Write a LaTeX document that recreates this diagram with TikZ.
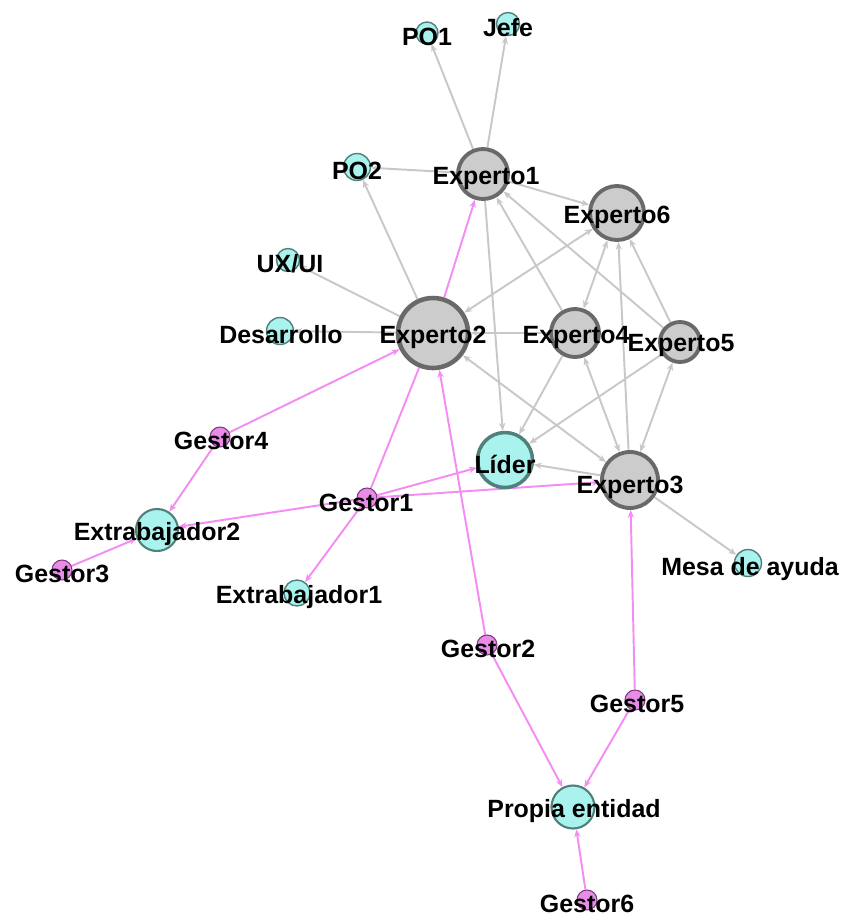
\documentclass[tikz,border=0pt]{standalone}
\usepackage{fontspec}
\setmainfont{Liberation Sans}
\usetikzlibrary{arrows.meta,backgrounds}
\definecolor{cyanfill}{RGB}{170,242,238}
\definecolor{cyanline}{RGB}{80,128,122}
\definecolor{expfill}{RGB}{204,204,204}
\definecolor{expline}{RGB}{105,105,105}
\definecolor{gesfill}{RGB}{232,140,232}
\definecolor{gesline}{RGB}{125,60,125}
\definecolor{pinkedge}{RGB}{244,140,244}
\definecolor{grayedge}{RGB}{200,200,200}
\begin{document}
\begin{tikzpicture}[x=0.02cm,y=-0.02cm]
        \tikzset{
            lbl/.style={font=\bfseries\fontsize{14.2}{16}\selectfont,inner sep=0pt,yshift=-0.08cm},
            rolenode/.style={circle,draw=cyanline,fill=cyanfill,line width=0.8pt,inner sep=0pt},
            expnode/.style={circle,draw=expline,fill=expfill,line width=2.2pt,inner sep=0pt},
            gesnode/.style={circle,draw=gesline,fill=gesfill,line width=0.6pt,inner sep=0pt,minimum size=0.4cm},
            rel/.style={-{Stealth[length=4.5pt,width=3.6pt]},draw=grayedge,line width=1.1pt},
            birel/.style={{Stealth[length=4.5pt,width=3.6pt]}-{Stealth[length=4.5pt,width=3.6pt]},draw=grayedge,line width=1.1pt},
            gesrel/.style={-{Stealth[length=4.5pt,width=3.6pt]},draw=pinkedge,line width=1.1pt},
        }
        \useasboundingbox (0,0) rectangle (844,921);

        % expertos
        \node[expnode,minimum size=1.0cm] (exp1) at (483,174) {};
        \node[expnode,minimum size=1.08cm] (exp6) at (617,213) {};
        \node[expnode,minimum size=1.4cm,line width=2.6pt] (exp2) at (433,333) {};
        \node[expnode,minimum size=0.96cm] (exp4) at (575,333) {};
        \node[expnode,minimum size=0.8cm] (exp5) at (680,342) {};
        \node[expnode,minimum size=1.12cm] (exp3) at (630,480) {};

        % roles
        \node[rolenode,minimum size=0.44cm] (po1) at (427,33) {};
        \node[rolenode,minimum size=0.46cm] (jefe) at (508,24) {};
        \node[rolenode,minimum size=0.54cm] (po2) at (357,167) {};
        \node[rolenode,minimum size=0.46cm] (uxui) at (288,260) {};
        \node[rolenode,minimum size=0.54cm] (desa) at (280,331) {};
        \node[rolenode,minimum size=1.1cm,line width=2pt] (lider) at (505,460) {};
        \node[rolenode,minimum size=0.84cm,line width=1.2pt] (extr2) at (157,530) {};
        \node[rolenode,minimum size=0.52cm] (extr1) at (297,593) {};
        \node[rolenode,minimum size=0.54cm] (mesa) at (748,563) {};
        \node[rolenode,minimum size=0.86cm,line width=1.2pt] (propia) at (573,807) {};

        % gestores
        \node[gesnode] (ges4) at (220,437) {};
        \node[gesnode] (ges1) at (367,498) {};
        \node[gesnode] (ges3) at (62,570) {};
        \node[gesnode] (ges2) at (487,645) {};
        \node[gesnode] (ges5) at (635,700) {};
        \node[gesnode] (ges6) at (587,900) {};

        \begin{scope}[on background layer]
            \draw[rel] (exp1) -- (po1);
            \draw[rel] (exp1) -- (jefe);
            \draw[rel] (exp1) -- (po2);
            \draw[rel] (exp1) -- (exp6);
            \draw[rel] (exp1) -- (lider);
            \draw[rel] (exp2) -- (po2);
            \draw[rel] (exp2) -- (uxui);
            \draw[rel] (exp2) -- (desa);
            \draw[rel] (exp4) -- (exp2);
            \draw[birel] (exp6) -- (exp2);
            \draw[birel] (exp3) -- (exp2);
            \draw[rel] (exp4) -- (exp1);
            \draw[rel] (exp5) -- (exp1);
            \draw[rel] (exp3) -- (exp6);
            \draw[birel] (exp4) -- (exp6);
            \draw[rel] (exp5) -- (exp6);
            \draw[rel] (exp4) -- (lider);
            \draw[rel] (exp5) -- (lider);
            \draw[rel] (exp3) -- (lider);
            \draw[birel] (exp4) -- (exp3);
            \draw[birel] (exp5) -- (exp3);
            \draw[rel] (exp3) -- (mesa);

            \draw[gesrel] (exp2) -- (exp1);
            \draw[gesrel] (ges4) -- (exp2);
            \draw[gesrel] (ges4) -- (extr2);
            \draw[gesrel,-] (ges1) -- (exp2);
            \draw[gesrel] (ges1) -- (lider);
            \draw[gesrel] (ges1) -- (extr2);
            \draw[gesrel] (ges1) -- (exp3);
            \draw[gesrel] (ges1) -- (extr1);
            \draw[gesrel] (ges3) -- (extr2);
            \draw[gesrel] (ges2) -- (exp2);
            \draw[gesrel] (ges2) -- (propia);
            \draw[gesrel] (ges5) -- (propia);
            \draw[gesrel] (ges5) -- (exp3);
            \draw[gesrel] (ges6) -- (propia);
        \end{scope}

        % etiquetas
        \node[lbl] (po1-t) at (po1) {PO1};
        \node[lbl] (jefe-t) at (jefe) {Jefe};
        \node[lbl] (po2-t) at (po2) {PO2};
        \node[lbl] (exp1-t) at (486,174) {Experto1};
        \node[lbl] (exp6-t) at (exp6) {Experto6};
        \node[lbl] (uxui-t) at (290,260) {UX/UI};
        \node[lbl] (desa-t) at (281,331) {Desarrollo};
        \node[lbl] (exp2-t) at (exp2) {Experto2};
        \node[lbl] (exp4-t) at (576,333) {Experto4};
        \node[lbl] (exp5-t) at (681,341) {Experto5};
        \node[lbl] (lider-t) at (lider) {Líder};
        \node[lbl] (exp3-t) at (630,483) {Experto3};
        \node[lbl] (ges4-t) at (221,437) {Gestor4};
        \node[lbl] (ges1-t) at (366,499) {Gestor1};
        \node[lbl] (extr2-t) at (157,530) {Extrabajador2};
        \node[lbl] (ges3-t) at (62,570) {Gestor3};
        \node[lbl] (extr1-t) at (299,593) {Extrabajador1};
        \node[lbl] (mesa-t) at (750,565) {Mesa de ayuda};
        \node[lbl] (ges2-t) at (488,645) {Gestor2};
        \node[lbl] (ges5-t) at (637,700) {Gestor5};
        \node[lbl] (propia-t) at (574,807) {Propia entidad};
        \node[lbl] (ges6-t) at (587,900) {Gestor6};
\end{tikzpicture}
\end{document}
